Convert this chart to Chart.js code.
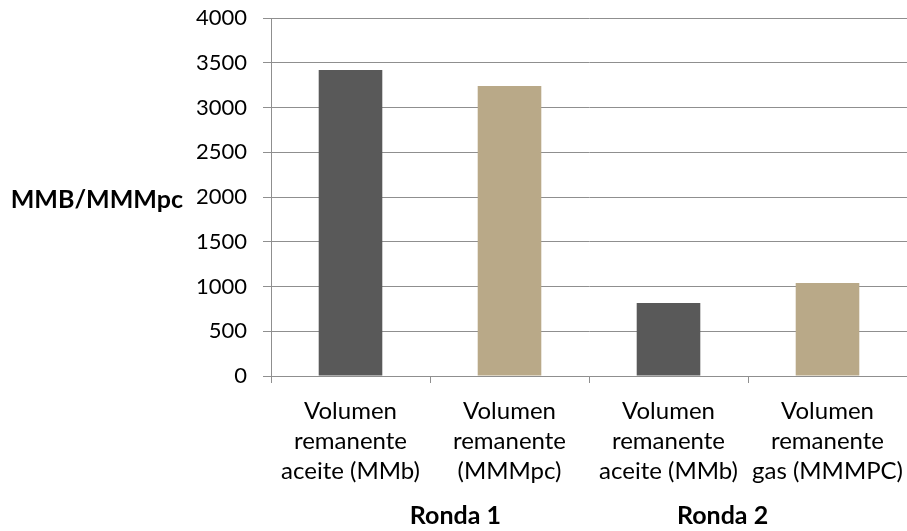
<!DOCTYPE html>
<html>
<head>
<meta charset="utf-8">
<script src="https://cdn.jsdelivr.net/npm/chart.js@4/dist/chart.umd.min.js"></script>
<style>
  html, body { margin: 0; padding: 0; background: #fff; }
  #wrap { width: 907px; height: 531px; position: relative; }
</style>
</head>
<body>
<div id="wrap"><canvas id="chart"></canvas></div>
<script>
// Remaining volumes per bidding round
const categories = [
  ['Volumen', 'remanente', 'aceite (MMb)'],
  ['Volumen', 'remanente', '(MMMpc)'],
  ['Volumen', 'remanente', 'aceite (MMb)'],
  ['Volumen', 'remanente', 'gas (MMMPC)']
];
const volumes = [3420, 3240, 815, 1040];
const rounds = ['Ronda 1', 'Ronda 2'];
const axisTitle = 'MMB/MMMpc';

const DARK = '#595959';
const TAN = '#B9A988';
const GRID = '#8f8f8f';
const FONT = 'Lato, "Open Sans", sans-serif';

// Horizontal y-axis title drawn to the left of the tick labels
const sideTitle = {
  id: 'sideTitle',
  afterDraw(chart) {
    const { ctx, chartArea } = chart;
    ctx.save();
    ctx.font = 'bold 25px ' + FONT;
    ctx.fillStyle = '#000';
    ctx.textAlign = 'right';
    ctx.textBaseline = 'middle';
    ctx.fillText(axisTitle, 183, (chartArea.top + chartArea.bottom) / 2 + 3);
    ctx.restore();
  }
};

// Second-level group labels under each pair of categories,
// nudged toward the middle of the plot
const groupLabels = {
  id: 'groupLabels',
  afterDraw(chart) {
    const { ctx } = chart;
    const x = chart.scales.x;
    const perGroup = categories.length / rounds.length;
    const inset = 0.16;
    ctx.save();
    ctx.font = 'bold 25px ' + FONT;
    ctx.fillStyle = '#000';
    ctx.textAlign = 'center';
    ctx.textBaseline = 'middle';
    rounds.forEach((name, i) => {
      const mid = i * perGroup + (perGroup - 1) / 2;
      const pull = i < rounds.length / 2 ? inset : -inset;
      ctx.fillText(name, x.getPixelForValue(mid + pull), x.bottom + 30);
    });
    ctx.restore();
  }
};

// Labels may overhang the plot edges without shrinking the plot
function noOverhang(scale) {
  scale.paddingLeft = 0;
  scale.paddingRight = 0;
  scale.paddingTop = 0;
  scale.paddingBottom = 0;
}

new Chart(document.getElementById('chart'), {
  type: 'bar',
  data: {
    labels: categories,
    datasets: [{
      data: volumes,
      backgroundColor: [DARK, TAN, DARK, TAN],
      borderWidth: 0,
      barPercentage: 0.4,
      categoryPercentage: 1.0
    }]
  },
  options: {
    responsive: true,
    maintainAspectRatio: false,
    animation: false,
    layout: { padding: { top: 18, right: 0, bottom: 45, left: 0 } },
    plugins: {
      legend: { display: false },
      tooltip: { enabled: false }
    },
    scales: {
      y: {
        min: 0,
        max: 4000,
        ticks: {
          stepSize: 500,
          color: '#000',
          padding: 16,
          font: { family: FONT, size: 22 },
          callback: (v) => String(v)
        },
        grid: { color: GRID, tickLength: 8, lineWidth: 1 },
        border: { color: GRID, width: 1 },
        afterFit(scale) { scale.width = 271; noOverhang(scale); }
      },
      x: {
        ticks: {
          color: '#000',
          padding: 13,
          maxRotation: 0,
          autoSkip: false,
          font: { family: FONT, size: 24, lineHeight: 1.25 }
        },
        grid: { display: true, drawOnChartArea: false, offset: true, color: GRID, tickLength: 7 },
        border: { color: GRID, width: 1 },
        afterFit(scale) { scale.height = 110; noOverhang(scale); }
      }
    }
  },
  plugins: [sideTitle, groupLabels]
});
</script>
</body>
</html>
